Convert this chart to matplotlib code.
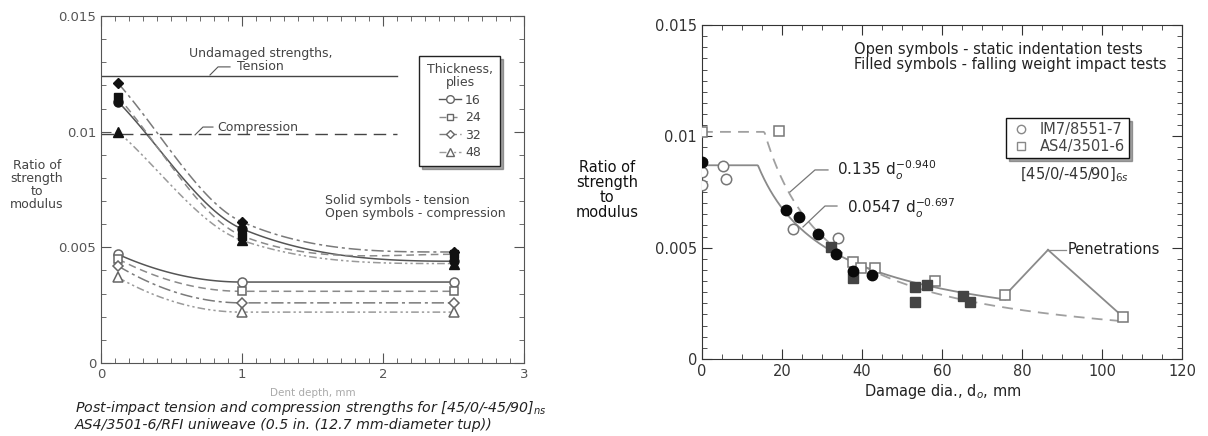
import numpy as np
import matplotlib.pyplot as plt
from matplotlib.lines import Line2D
from matplotlib.ticker import MultipleLocator

plt.rcParams['font.family'] = ['DejaVu Sans']
plt.rcParams['mathtext.fontset'] = 'dejavusans'

# ---------------- Left panel: strength ratio vs dent depth ----------------
plies = ['16', '24', '32', '48']
dent_depth = [0.12, 1.0, 2.5]

tension_16 = [0.0113, 0.0058, 0.0044]
tension_24 = [0.0115, 0.0055, 0.0047]
tension_32 = [0.0121, 0.0061, 0.0048]
tension_48 = [0.0100, 0.0053, 0.0043]

compression_16 = [0.0047, 0.0035, 0.0035]
compression_24 = [0.0045, 0.0031, 0.0031]
compression_32 = [0.0042, 0.0026, 0.0026]
compression_48 = [0.0037, 0.0022, 0.0022]

undamaged_tension = 0.0124
undamaged_compression = 0.0099

# ---------------- Right panel: strength ratio vs damage diameter ----------------
im7_impact_d = [0, 21, 24.3, 29.1, 33.4, 37.8, 42.4]
im7_impact_r = [0.00886, 0.0067, 0.00636, 0.0056, 0.00471, 0.00397, 0.00377]

im7_static_d = [0, 0, 5.2, 6.0, 22.8, 34.1]
im7_static_r = [0.0084, 0.0078, 0.00868, 0.0081, 0.00582, 0.00542]

as4_impact_d = [32.2, 37.8, 53.3, 56.2, 53.3, 65.3, 67.0]
as4_impact_r = [0.00504, 0.00362, 0.00325, 0.00332, 0.00257, 0.00284, 0.00255]

as4_static_d = [0, 19.2, 37.8, 39.7, 43.3, 58.3, 75.8, 105.2]
as4_static_r = [0.0102, 0.01025, 0.00437, 0.00407, 0.0041, 0.0035, 0.00287, 0.0019]

# power-law fits r = coef * d^expo, capped at the small-damage plateau
as4_fit = (0.135, -0.940, 0.0102, 105.0)   # coef, exponent, cap, last diameter
im7_fit = (0.0547, -0.697, 0.0087, 75.8)

penetration_d = [75.8, 105.2]
penetration_r = [0.00287, 0.0019]


def hermite(xa, xb, ya, yb, ma, mb, n=60):
    t = np.linspace(0, 1, n)
    h = xb - xa
    h00 = 2 * t**3 - 3 * t**2 + 1
    h10 = t**3 - 2 * t**2 + t
    h01 = -2 * t**3 + 3 * t**2
    h11 = t**3 - t**2
    return xa + h * t, h00 * ya + h10 * h * ma + h01 * yb + h11 * h * mb


def decay_curve(x, y):
    """Smooth monotone decay through three points, levelling off at the end."""
    s1 = (y[1] - y[0]) / (x[1] - x[0])
    s2 = (y[2] - y[1]) / (x[2] - x[1])
    m0, m1, m2 = s1, 0.3 * s1 + 0.7 * s2, 0.0
    xa, ya = hermite(x[0], x[1], y[0], y[1], m0, m1)
    xb, yb = hermite(x[1], x[2], y[1], y[2], m1, m2)
    return np.concatenate([xa, xb[1:]]), np.concatenate([ya, yb[1:]])


def settle_curve(x, y, n=60):
    """Parabolic drop that levels off at the second point, then flat."""
    xs = np.linspace(x[0], x[1], n)
    ys = y[1] + (y[0] - y[1]) * ((x[1] - xs) / (x[1] - x[0])) ** 2
    return np.append(xs, x[2]), np.append(ys, y[2])


fig = plt.figure(figsize=(12.08, 4.36), dpi=100)

# ======================= LEFT PANEL =======================
axl = fig.add_axes([0.0836, 0.1674, 0.3502, 0.7959])
styles = {'16': '-', '24': (0, (5, 3)), '32': (0, (8, 2.5, 2, 2.5)), '48': (0, (5, 2, 1.5, 2, 1.5, 2))}
colors = {'16': '#555555', '24': '#8a8a8a', '32': '#7a7a7a', '48': '#9a9a9a'}
markers = {'16': 'o', '24': 's', '32': 'D', '48': '^'}
msize = {'16': 6.5, '24': 6, '32': 5, '48': 6.5}

tension = dict(zip(plies, [tension_16, tension_24, tension_32, tension_48]))
compression = dict(zip(plies, [compression_16, compression_24, compression_32, compression_48]))

for p in plies:
    xs, ys = decay_curve(dent_depth, tension[p])
    axl.plot(xs, ys, ls=styles[p], color=colors[p], lw=1.1, zorder=2)
    xs, ys = settle_curve(dent_depth, compression[p])
    axl.plot(xs, ys, ls=styles[p], color=colors[p], lw=1.1, zorder=2)
for p in plies:
    axl.plot(dent_depth, tension[p], ls='none', marker=markers[p], ms=msize[p],
             mfc='#111111', mec='#111111', zorder=4)
    axl.plot(dent_depth, compression[p], ls='none', marker=markers[p], ms=msize[p],
             mfc='white', mec='#666666', mew=1.1, zorder=4)

axl.plot([0, 2.1], [undamaged_tension] * 2, color='#444444', lw=1.0)
axl.plot([0, 2.1], [undamaged_compression] * 2, color='#444444', lw=1.0, ls=(0, (9, 5)))

axl.text(1.13, 0.01308, 'Undamaged strengths,\nTension', ha='center', va='center',
         fontsize=9, color='#444444', linespacing=1.0)
axl.plot([0.773, 0.83, 0.915], [0.01245, 0.0128, 0.0128], color='#555555', lw=0.8)
axl.text(0.823, 0.0102, 'Compression', ha='left', va='center', fontsize=9, color='#444444')
axl.plot([0.667, 0.723, 0.794], [0.00986, 0.0102, 0.0102], color='#555555', lw=0.8)
axl.text(1.59, 0.00673, 'Solid symbols - tension\nOpen symbols - compression', ha='left',
         va='center', fontsize=9, color='#444444', linespacing=1.0)

handles = [Line2D([], [], ls=styles[p], color=colors[p], marker=markers[p], ms=msize[p] - 1,
                  mfc='white', mec='#666666', lw=1.0) for p in plies]
leg = axl.legend(handles, plies, title='Thickness,\nplies', loc='upper left',
                 bbox_to_anchor=(0.738, 0.903), frameon=True, fancybox=False, shadow=True,
                 fontsize=9, title_fontsize=9, handlelength=1.8, handletextpad=0.3,
                 labelspacing=0.35, borderpad=0.6)
leg.get_frame().set_edgecolor('#222222')
leg.get_frame().set_linewidth(1.0)
leg.get_title().set_color('#444444')
leg.get_title().set_multialignment('center')
leg.get_title().set_linespacing(1.0)
for t in leg.get_texts():
    t.set_color('#444444')

axl.set_xlim(0, 3)
axl.set_ylim(0, 0.015)
axl.set_xticks([0, 1, 2, 3])
axl.set_yticks([0, 0.005, 0.01, 0.015])
axl.set_yticklabels(['0', '0.005', '0.01', '0.015'])
axl.xaxis.set_minor_locator(MultipleLocator(0.1))
axl.yaxis.set_minor_locator(MultipleLocator(0.001))
axl.tick_params(which='both', direction='in', top=True, right=True, colors='#555555',
                labelcolor='#555555', labelsize=9.5)
axl.tick_params(which='major', length=7)
axl.tick_params(which='minor', length=3.5)
for s in axl.spines.values():
    s.set_color('#555555')

fig.text(0.0306, 0.5757, 'Ratio of\nstrength\nto\nmodulus', ha='center', va='center',
         fontsize=9, color='#444444', linespacing=1.0)
fig.text(0.259, 0.0986, 'Dent depth, mm', ha='center', va='center', fontsize=7.5, color='#aaaaaa')
fig.text(0.062, 0.0642, 'Post-impact tension and compression strengths for [45/0/-45/90]$_{ns}$',
         ha='left', va='center', fontsize=10.2, style='italic', color='#222222')
fig.text(0.062, 0.0252, 'AS4/3501-6/RFI uniweave (0.5 in. (12.7 mm-diameter tup))',
         ha='left', va='center', fontsize=10.2, style='italic', color='#222222')

# ======================= RIGHT PANEL =======================
axr = fig.add_axes([0.5811, 0.1766, 0.3974, 0.7661])

for (coef, expo, cap, dmax), ls, col in [(as4_fit, (0, (6, 4)), '#a0a0a0'),
                                         (im7_fit, '-', '#8a8a8a')]:
    d = np.linspace(0.2, dmax, 400)
    r = np.minimum(cap, coef * d ** expo)
    axr.plot(np.append(0, d), np.append(cap, r), ls=ls, color=col, lw=1.3, zorder=2)

# leader to the penetration points
apex = (86.5, 0.0049)
for dp, rp in zip(penetration_d, penetration_r):
    axr.plot([dp, apex[0]], [rp, apex[1]], color='#8a8a8a', lw=1.3, zorder=2)
axr.plot([apex[0], 91.0], [apex[1], apex[1]], color='#8a8a8a', lw=0.9)
axr.text(91.5, 0.0049, 'Penetrations', ha='left', va='center', fontsize=10.5, color='#222222')

axr.plot(im7_static_d, im7_static_r, ls='none', marker='o', ms=7.5, mfc='white',
         mec='#777777', mew=1.1, zorder=3)
axr.plot(as4_static_d, as4_static_r, ls='none', marker='s', ms=7.5, mfc='white',
         mec='#777777', mew=1.1, zorder=3)
axr.plot(as4_impact_d, as4_impact_r, ls='none', marker='s', ms=7.5, mfc='#444444',
         mec='#444444', zorder=4)
axr.plot(im7_impact_d, im7_impact_r, ls='none', marker='o', ms=7.5, mfc='#0a0a0a',
         mec='#0a0a0a', zorder=5)

axr.text(33.75, 0.00849, r'0.135 d$_o^{-0.940}$', ha='left', va='center', fontsize=11, color='#222222')
axr.plot([31.5, 28.25, 22.0], [0.00849, 0.00849, 0.0075], color='#777777', lw=0.9)
axr.text(36.25, 0.00678, r'0.0547 d$_o^{-0.697}$', ha='left', va='center', fontsize=11, color='#222222')
axr.plot([33.75, 30.75, 25.25], [0.00687, 0.00687, 0.00593], color='#777777', lw=0.9)

axr.text(38.0, 0.01356, 'Open symbols - static indentation tests\nFilled symbols - falling weight impact tests',
         ha='left', va='center', fontsize=10.5, color='#222222', linespacing=1.0)
axr.text(79.5, 0.00825, '[45/0/-45/90]$_{6s}$', ha='left', va='center', fontsize=10.5, color='#333333')

rh = [Line2D([], [], ls='none', marker='o', ms=6, mfc='white', mec='#888888'),
      Line2D([], [], ls='none', marker='s', ms=6, mfc='white', mec='#888888')]
legr = axr.legend(rh, ['IM7/8551-7', 'AS4/3501-6'], loc='upper left', bbox_to_anchor=(0.618, 0.744),
                  frameon=True, fancybox=False, shadow=True, fontsize=10.5, handletextpad=0.6,
                  labelspacing=0.1, borderpad=0.3, handlelength=1.4)
legr.get_frame().set_edgecolor('#111111')
legr.get_frame().set_linewidth(1.0)
for t in legr.get_texts():
    t.set_color('#444444')

axr.set_xlim(0, 120)
axr.set_ylim(0, 0.015)
axr.set_xticks(np.arange(0, 121, 20))
axr.set_yticks([0, 0.005, 0.01, 0.015])
axr.set_yticklabels(['0', '0.005', '0.01', '0.015'])
axr.xaxis.set_minor_locator(MultipleLocator(5))
axr.yaxis.set_minor_locator(MultipleLocator(0.0005))
axr.tick_params(which='both', direction='in', top=True, right=True, colors='#333333',
                labelcolor='#333333', labelsize=10.5)
axr.tick_params(which='major', length=7)
axr.tick_params(which='minor', length=3.5)
for s in axr.spines.values():
    s.set_color('#333333')

fig.text(0.5025, 0.564, 'Ratio of\nstrength\nto\nmodulus', ha='center', va='center',
         fontsize=10.5, color='#111111', linespacing=1.0)
fig.text(0.78, 0.101, 'Damage dia., d$_o$, mm', ha='center', va='center', fontsize=10.5, color='#222222')

fig.savefig('out.png', dpi=100)
